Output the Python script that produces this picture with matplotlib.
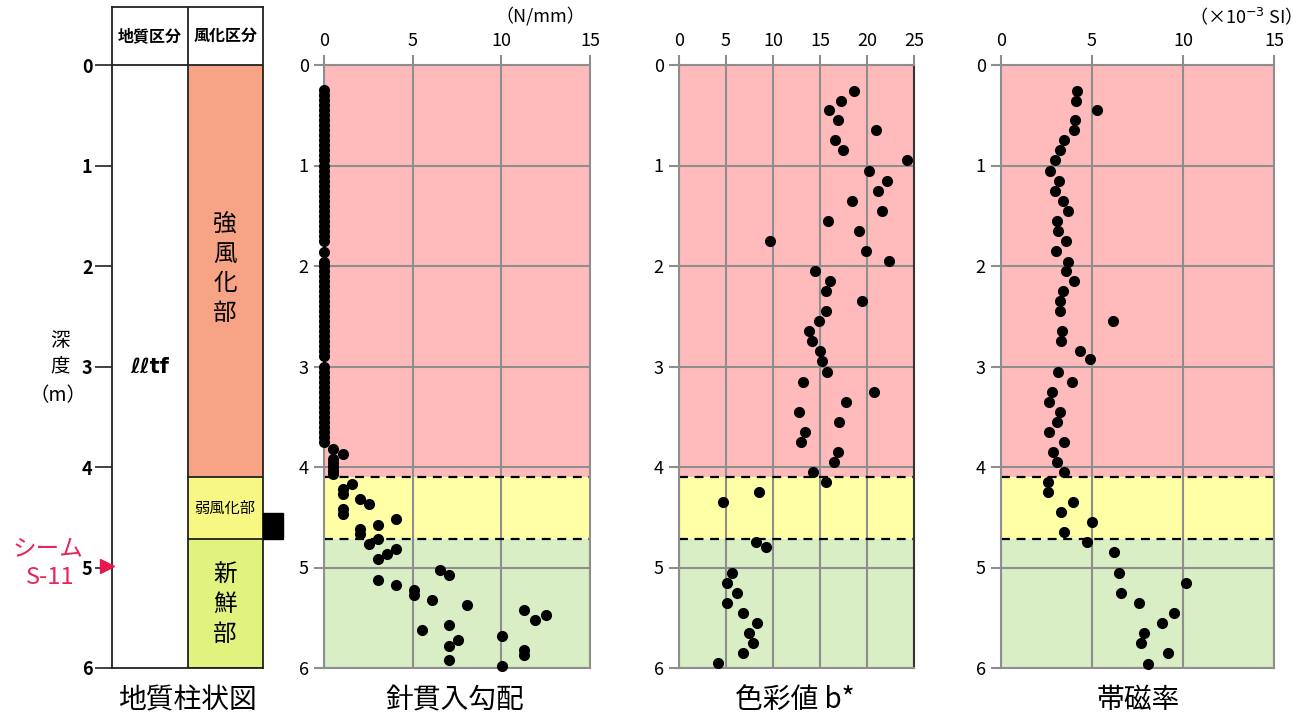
import matplotlib
matplotlib.use('Agg')
import matplotlib.pyplot as plt
from matplotlib.patches import Rectangle

plt.rcParams['font.family'] = ['Noto Sans CJK JP', 'DejaVu Sans']

# ---------------- data ----------------
zone_bounds = [0.0, 4.1, 4.72, 6.0]
zone_labels = ['強\n風\n化\n部', '弱風化部', '新\n鮮\n部']

# needle penetration gradient (N/mm)
pen_depth = [0.25, 0.30, 0.35, 0.40, 0.45, 0.50, 0.55, 0.60, 0.65, 0.70,
             0.75, 0.80, 0.85, 0.90, 0.95, 1.00, 1.05, 1.10, 1.15, 1.20,
             1.25, 1.30, 1.35, 1.40, 1.45, 1.50, 1.55, 1.60, 1.65, 1.70,
             1.75, 1.86, 1.96, 2.00, 2.05, 2.10, 2.15, 2.20, 2.25, 2.30,
             2.35, 2.40, 2.45, 2.50, 2.55, 2.60, 2.65, 2.70, 2.75, 2.80,
             2.85, 2.90, 3.00, 3.05, 3.10, 3.15, 3.20, 3.25, 3.30, 3.35,
             3.40, 3.45, 3.50, 3.55, 3.60, 3.65, 3.70, 3.75,
             3.82, 3.87, 3.92, 3.96, 4.00, 4.04, 4.07,
             4.17, 4.22, 4.27, 4.32, 4.37, 4.42, 4.47, 4.52, 4.58, 4.62,
             4.67, 4.72, 4.77, 4.82, 4.87, 4.92, 5.02, 5.07, 5.12, 5.17,
             5.22, 5.27, 5.32, 5.37, 5.42, 5.47, 5.52, 5.57, 5.62, 5.68,
             5.72, 5.78, 5.82, 5.87, 5.92, 5.98]
pen_value = [0, 0, 0, 0, 0, 0, 0, 0, 0, 0,
             0, 0, 0, 0, 0, 0, 0, 0, 0, 0,
             0, 0, 0, 0, 0, 0, 0, 0, 0, 0,
             0, 0, 0, 0, 0, 0, 0, 0, 0, 0,
             0, 0, 0, 0, 0, 0, 0, 0, 0, 0,
             0, 0, 0, 0, 0, 0, 0, 0, 0, 0,
             0, 0, 0, 0, 0, 0, 0, 0,
             0.52, 1.06, 0.52, 0.52, 0.52, 0.52, 0.52,
             1.57, 1.06, 1.06, 2.05, 2.56, 1.06, 1.06, 4.06, 3.06, 2.05,
             2.05, 3.06, 2.56, 4.06, 3.57, 3.06, 6.54, 7.05, 3.06, 4.06,
             5.08, 5.08, 6.08, 8.05, 11.28, 12.52, 11.90, 7.05, 5.55, 10.02,
             7.54, 7.05, 11.28, 11.28, 7.05, 10.02]

# colour value b*
col_depth = [0.26, 0.36, 0.45, 0.55, 0.65, 0.75, 0.85, 0.95, 1.05, 1.15,
             1.25, 1.35, 1.45, 1.55, 1.65, 1.75, 1.85, 1.95, 2.05, 2.15,
             2.25, 2.35, 2.45, 2.55, 2.65, 2.75, 2.85, 2.95, 3.05, 3.15,
             3.25, 3.35, 3.45, 3.55, 3.65, 3.75, 3.85, 3.95, 4.05, 4.15,
             4.25, 4.35, 4.75, 4.80, 5.05, 5.15, 5.25, 5.35, 5.45, 5.55,
             5.65, 5.75, 5.85, 5.95]
col_value = [18.6, 17.2, 16.0, 16.9, 21.0, 16.6, 17.4, 24.3, 20.2, 22.1,
             21.2, 18.4, 21.6, 15.8, 19.2, 9.7, 19.9, 22.3, 14.5, 16.1,
             15.6, 19.5, 15.6, 14.9, 13.8, 14.2, 15.0, 15.2, 15.7, 13.2,
             20.7, 17.8, 12.8, 17.0, 13.4, 13.0, 16.9, 16.5, 14.3, 15.6,
             8.5, 4.7, 8.2, 9.3, 5.6, 5.1, 6.2, 5.1, 6.8, 8.3,
             7.4, 7.9, 6.8, 4.2]

# magnetic susceptibility (x10^-3 SI)
mag_depth = [0.26, 0.36, 0.45, 0.55, 0.65, 0.75, 0.85, 0.95, 1.05, 1.15,
             1.25, 1.35, 1.45, 1.55, 1.65, 1.75, 1.85, 1.96, 2.05, 2.15,
             2.25, 2.35, 2.45, 2.55, 2.65, 2.75, 2.85, 2.93, 3.05, 3.15,
             3.25, 3.35, 3.45, 3.55, 3.65, 3.75, 3.85, 3.95, 4.05, 4.15,
             4.25, 4.35, 4.45, 4.55, 4.65, 4.75, 4.85, 5.05, 5.15, 5.25,
             5.35, 5.45, 5.55, 5.65, 5.75, 5.85, 5.96]
mag_value = [4.18, 4.10, 5.30, 4.05, 3.99, 3.46, 3.22, 2.97, 2.71, 3.17,
             2.97, 3.43, 3.68, 3.06, 3.11, 3.59, 3.01, 3.70, 3.57, 3.99,
             3.43, 3.22, 3.22, 6.17, 3.33, 3.30, 4.32, 4.91, 3.15, 3.88,
             2.82, 2.66, 3.22, 3.09, 2.64, 3.44, 2.86, 3.09, 3.44, 2.60,
             2.58, 3.96, 3.30, 5.00, 3.44, 4.73, 6.19, 6.50, 10.18, 6.57,
             7.60, 9.49, 8.86, 7.86, 7.68, 9.17, 8.10]

panels = [
    dict(x0=324, x1=590, xmax=15, xticks=[0, 5, 10, 15], title='針貫入勾配',
         tx=455, unit='（N/mm）', ux=540, xs=pen_value, ys=pen_depth, rspine='#8E8E8E'),
    dict(x0=679, x1=914, xmax=25, xticks=[0, 5, 10, 15, 20, 25], title='色彩値 b*',
         tx=795, unit=None, ux=None, xs=col_value, ys=col_depth, rspine='#333333'),
    dict(x0=1001, x1=1274, xmax=15, xticks=[0, 5, 10, 15], title='帯磁率',
         tx=1138, unit='（×10$^{-3}$ SI）', ux=1240, xs=mag_value, ys=mag_depth,
         rspine='#8E8E8E'),
]

# ---------------- figure ----------------
W, H = 1313, 717
fig = plt.figure(figsize=(W / 100, H / 100), dpi=100)
fig.patch.set_facecolor('white')


def ax_at(x0, y0, x1, y1):
    return fig.add_axes([x0 / W, 1 - y1 / H, (x1 - x0) / W, (y1 - y0) / H])


def ftext(x, y, s, **kw):
    fig.text(x / W, 1 - y / H, s, **kw)


Y0, Y6 = 65, 668
panel_colors = ['#FFBBBB', '#FFFFA6', '#D9EEC4']
grid_c = '#8E8E8E'

for p in panels:
    ax = ax_at(p['x0'], Y0, p['x1'], Y6)
    ax.set_xlim(0, p['xmax'])
    ax.set_ylim(6, 0)
    for i in range(3):
        ax.axhspan(zone_bounds[i], zone_bounds[i + 1], color=panel_colors[i], lw=0, zorder=0)
    ax.set_xticks(p['xticks'])
    ax.set_yticks(range(7))
    ax.xaxis.tick_top()
    ax.tick_params(axis='both', direction='out', length=7, width=1.5, color=grid_c,
                   labelsize=13, pad=4)
    ax.grid(True, color=grid_c, lw=1.5, zorder=1)
    for s in ax.spines.values():
        s.set_color(grid_c)
        s.set_linewidth(1.5)
    ax.spines['right'].set_color(p['rspine'])
    for b in zone_bounds[1:3]:
        ax.axhline(b, color='black', lw=1.6, dashes=(4, 3), zorder=2)
    ax.plot(p['xs'], p['ys'], 'o', color='black', ms=7, zorder=3, clip_on=False)
    ftext(p['tx'], 700, p['title'], fontsize=20, ha='center', va='center')
    if p['unit']:
        ftext(p['ux'], 16, p['unit'], fontsize=13, ha='center', va='center')

# ---------------- geological column ----------------
col_colors = ['#F7A385', '#F7F783', '#E2F27E']
axL = ax_at(112, 7, 263, 668)
axL.set_xlim(0, 2)
axL.set_ylim(6, -0.58)
for i in range(3):
    axL.fill_betweenx([zone_bounds[i], zone_bounds[i + 1]], 1, 2,
                      color=col_colors[i], lw=0, zorder=0)
    axL.plot([1, 2], [zone_bounds[i + 1], zone_bounds[i + 1]], color='#222222', lw=1.3)
axL.plot([0, 2], [0, 0], color='#222222', lw=1.3)
axL.plot([1, 1], [-0.58, 6], color='#222222', lw=1.3)
for s in axL.spines.values():
    s.set_color('#222222')
    s.set_linewidth(1.3)
axL.set_xticks([])
axL.set_yticks(range(7))
axL.tick_params(axis='y', direction='out', length=12, width=1.3, color='#333333',
                labelsize=13, pad=2)
for lab in axL.get_yticklabels():
    lab.set_fontweight('bold')

axL.text(0.5, -0.29, '地質区分', fontsize=11.5, fontweight='bold', ha='center', va='center')
axL.text(1.5, -0.29, '風化区分', fontsize=11.5, fontweight='bold', ha='center', va='center')
axL.text(0.5, 3.0, 'ℓℓtf', fontsize=15, fontweight='bold', ha='center', va='center',
         family=['DejaVu Sans'])
axL.text(1.5, 2.03, zone_labels[0], fontsize=17, ha='center', va='center', linespacing=1.35)
axL.text(1.5, 4.41, zone_labels[1], fontsize=11, ha='center', va='center')
axL.text(1.5, 5.37, zone_labels[2], fontsize=17, ha='center', va='center', linespacing=1.35)

# black marker block to the right of the column
axL.add_patch(Rectangle((2.0, 4.46), 0.27, 0.26, color='black', clip_on=False, zorder=5))
# seam marker
axL.plot([-0.07], [4.98], marker='>', color='#E8174F', ms=10, clip_on=False, zorder=5)

ftext(60, 340, '深', fontsize=14, ha='center', va='center')
ftext(60, 366, '度', fontsize=14, ha='center', va='center')
ftext(58, 396, '（m）', fontsize=14, ha='center', va='center')
ftext(48, 549, 'シーム', fontsize=17, color='#E8235A', ha='center', va='center')
ftext(50, 578, 'S-11', fontsize=17, color='#E8235A', ha='center', va='center')
ftext(187, 700, '地質柱状図', fontsize=20, ha='center', va='center')

fig.savefig('out.png', dpi=100, facecolor='white')
